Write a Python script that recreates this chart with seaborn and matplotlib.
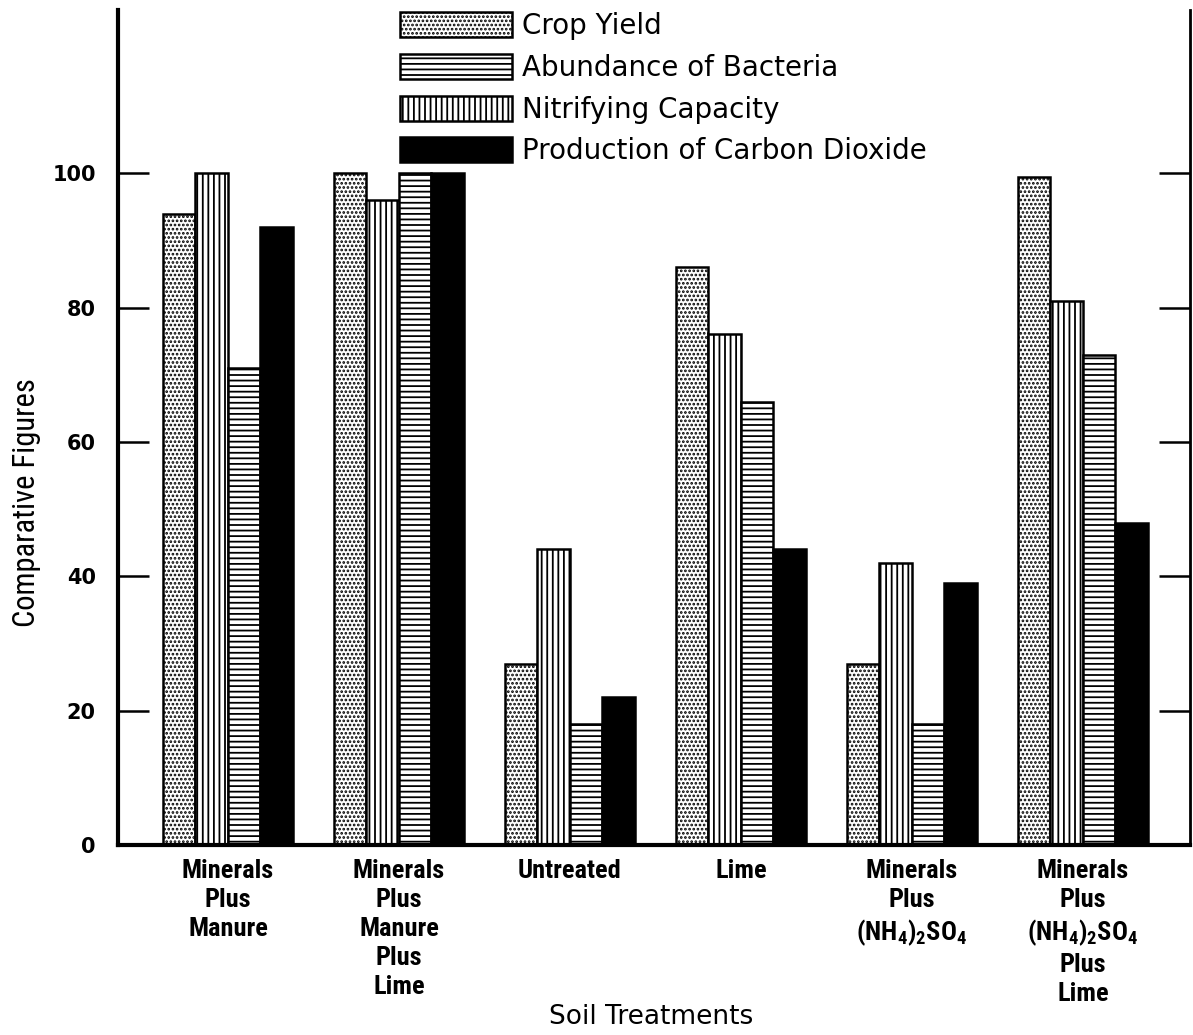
import matplotlib
matplotlib.use("Agg")
import matplotlib.pyplot as plt
from matplotlib import font_manager
from matplotlib.patches import Patch
import pandas as pd
import seaborn as sns

# Soil treatments on the x axis
treatments = [
    "Minerals\nPlus\nManure",
    "Minerals\nPlus\nManure\nPlus\nLime",
    "Untreated",
    "Lime",
    "Minerals\nPlus\n(NH$_4$)$_2$SO$_4$",
    "Minerals\nPlus\n(NH$_4$)$_2$SO$_4$\nPlus\nLime",
]

# Comparative figures for each measured quantity
crop_yield = [94, 100, 27, 86, 27, 99.5]
bacteria = [71, 100, 18, 66, 18, 73]
nitrifying = [100, 96, 44, 76, 42, 81]
carbon_dioxide = [92, 100, 22, 44, 39, 48]

series_names = ["Crop Yield", "Abundance of Bacteria", "Nitrifying Capacity",
                "Production of Carbon Dioxide"]
yticks = [0, 20, 40, 60, 80, 100]

df = pd.DataFrame({
    "treatment": treatments * 4,
    "series": sum([[s] * len(treatments) for s in series_names], []),
    "value": crop_yield + bacteria + nitrifying + carbon_dioxide,
})

sns.set_theme(style="white")
plt.rcParams.update({
    "hatch.linewidth": 1.3,
    "mathtext.default": "regular",
    "font.family": ["DejaVu Sans"],
    "text.color": "black",
    "axes.labelcolor": "black",
    "xtick.color": "black",
    "ytick.color": "black",
})


def first_available(candidates):
    for name in candidates:
        try:
            font_manager.findfont(font_manager.FontProperties(family=name),
                                  fallback_to_default=False)
            return name
        except Exception:
            continue
    return None


narrow_name = first_available(["Liberation Sans Narrow", "DejaVu Sans Condensed",
                               "Roboto Condensed", "Open Sans Condensed",
                               "Noto Sans Condensed"])
narrow = [narrow_name, "DejaVu Sans"] if narrow_name else ["DejaVu Sans"]
tick_size = 19 if narrow_name else 15
ylabel_size = 22 if narrow_name else 18

fig = plt.figure(figsize=(11.93, 10.35), dpi=100)
ax = fig.add_axes([118 / 1193, 1 - 845 / 1035, (1190 - 118) / 1193, (845 - 10) / 1035])

# bars within each group run: crop, nitrifying, bacteria, CO2
draw_order = ["Crop Yield", "Nitrifying Capacity", "Abundance of Bacteria",
              "Production of Carbon Dioxide"]
fills = {"Crop Yield": "white", "Nitrifying Capacity": "white",
         "Abundance of Bacteria": "white", "Production of Carbon Dioxide": "black"}
hatches = {"Crop Yield": "....", "Nitrifying Capacity": "|||",
           "Abundance of Bacteria": "---", "Production of Carbon Dioxide": ""}

sns.barplot(data=df, x="treatment", y="value", hue="series", hue_order=draw_order,
            order=treatments, palette=fills, width=0.76, gap=0, dodge=True,
            edgecolor="black", linewidth=1.8, saturation=1, legend=False, ax=ax)

for name, cont in zip(draw_order, ax.containers):
    for bar in cont:
        bar.set_hatch(hatches[name])
        bar.set_edgecolor("black")
        bar.set_facecolor(fills[name])

ax.set_xlim(-0.643, 5.626)
ax.set_ylim(0, 124.3)
ax.set_yticks(yticks)
ax.set_yticklabels([str(v) for v in yticks], fontsize=15, fontweight="bold")
ax.tick_params(axis="y", direction="in", length=22, width=1.8, left=True, right=True,
               pad=16)
ax.tick_params(axis="x", length=0, pad=10)
for lab in ax.get_xticklabels():
    lab.set_family(narrow)
    lab.set_fontweight("bold")
    lab.set_fontsize(tick_size)
    lab.set_linespacing(1.26)
    lab.set_verticalalignment("top")

ax.set_ylabel("Comparative Figures", fontsize=ylabel_size, family=narrow)
ax.yaxis.set_label_coords(-0.072, 0.41)
ax.set_xlabel("Soil Treatments", fontsize=19)
ax.xaxis.set_label_coords(0.497, -0.191)

ax.spines["top"].set_visible(False)
for side, lw in [("left", 3), ("bottom", 3), ("right", 2)]:
    ax.spines[side].set_visible(True)
    ax.spines[side].set_color("black")
    ax.spines[side].set_linewidth(lw)

legend_order = ["Crop Yield", "Abundance of Bacteria", "Nitrifying Capacity",
                "Production of Carbon Dioxide"]
handles = [Patch(facecolor=fills[n], edgecolor="black", hatch=hatches[n], linewidth=1.8,
                 label=n) for n in legend_order]
fig.legend(handles=handles, loc="upper left", bbox_to_anchor=(381 / 1193, 1 + 7 / 1035),
           frameon=False, fontsize=20, handlelength=4.0, handleheight=1.0,
           labelspacing=0.49, handletextpad=0.36, borderpad=0.2, labelcolor="black")

fig.savefig("out.png", dpi=100)
